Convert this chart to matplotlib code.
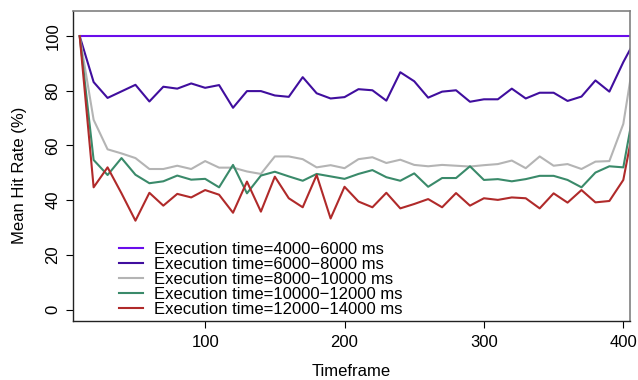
import numpy as np
import matplotlib
matplotlib.use('Agg')
import matplotlib.pyplot as plt

plt.rcParams['font.family'] = ['Liberation Sans', 'DejaVu Sans']

timeframe = list(range(10, 411, 10))

hit_4000 = [100.0] * 41
hit_6000 = [100, 83.2, 77.4, 79.8, 82.2, 76.1, 81.5, 80.8, 82.7, 81.1, 82.1, 73.8, 79.9,
            79.9, 78.3, 77.8, 85.0, 79.1, 77.2, 77.7, 80.6, 80.2, 76.4, 86.8, 83.5, 77.5, 79.7,
            80.2, 76.0, 76.9, 76.9, 80.8, 77.2, 79.3, 79.3, 76.3, 77.9, 83.8, 79.7, 90.5, 100]
hit_8000 = [100, 69.4, 58.6, 57.1, 55.4, 51.4, 51.4, 52.6, 51.4, 54.3, 51.9, 51.9, 50.5,
            49.6, 56.0, 56.0, 55.0, 52.0, 52.8, 51.7, 55.0, 55.7, 53.6, 54.8, 52.9, 52.4, 52.9,
            52.6, 52.3, 52.8, 53.2, 54.5, 51.7, 56.0, 52.6, 53.2, 51.4, 54.1, 54.3, 67.9, 100]
hit_10000 = [100, 54.7, 49.2, 55.4, 49.3, 46.2, 46.9, 49.0, 47.5, 47.8, 44.7, 52.9, 42.5,
             49.0, 50.4, 48.7, 47.1, 49.6, 48.7, 47.8, 49.6, 51.0, 48.4, 47.1, 49.8, 44.9, 48.1,
             48.1, 52.4, 47.4, 47.7, 46.9, 47.7, 48.9, 48.9, 47.4, 44.7, 50.1, 52.4, 52.0, 80]
hit_12000 = [100, 44.7, 52.0, 42.5, 32.5, 42.7, 38.0, 42.3, 41.0, 43.7, 42.0, 35.4, 46.8,
             35.8, 48.6, 40.7, 37.4, 49.2, 33.3, 44.9, 39.5, 37.4, 42.7, 37.0, 38.6, 40.4, 37.4,
             42.6, 38.0, 40.7, 40.1, 41.0, 40.7, 37.0, 42.5, 39.1, 43.7, 39.2, 39.7, 47.4, 74]

series = [hit_4000, hit_6000, hit_8000, hit_10000, hit_12000]
labels = ['Execution time=4000\u22126000 ms', 'Execution time=6000\u22128000 ms',
          'Execution time=8000\u221210000 ms', 'Execution time=10000\u221212000 ms',
          'Execution time=12000\u221214000 ms']
colors = ['#6A0DEB', '#400E9E', '#B4B4B4', '#3A8A6A', '#B02A2A']

fig = plt.figure(figsize=(6.38, 3.8), dpi=100)
ax = fig.add_axes([73 / 638, 1 - 321 / 380, 557 / 638, 310 / 380])

for vals, lab, col in zip(series, labels, colors):
    ax.plot(timeframe, vals, color=col, lw=1.5, label=lab)

ax.set_xlim(5.2, 404.8)
ax.set_ylim(-4.2, 109.2)
ax.set_xticks([100, 200, 300, 400])
ax.set_yticks([0, 20, 40, 60, 80, 100])
ax.tick_params(axis='both', length=5, width=0.8, labelsize=12, direction='out')
ax.tick_params(axis='x', pad=5)
ax.tick_params(axis='y', pad=4)
for t in ax.get_yticklabels():
    t.set_rotation(90)
    t.set_va('center')

for s in ['left', 'bottom']:
    ax.spines[s].set_color('#222222')
    ax.spines[s].set_linewidth(1.0)
for s in ['top', 'right']:
    ax.spines[s].set_color('#808080')
    ax.spines[s].set_linewidth(1.2)

fig.text(351.5 / 638, 1 - 371 / 380, 'Timeframe', ha='center', va='center', fontsize=12)
fig.text(20 / 638, 1 - 175 / 380, 'Mean Hit Rate (%)', ha='center', va='center',
         rotation=90, fontsize=12)

ax.legend(loc='upper left', bbox_to_anchor=(119 / 638, 1 - 242 / 380),
          bbox_transform=fig.transFigure, frameon=False, fontsize=12,
          borderpad=0, borderaxespad=0, labelspacing=0.0, handlelength=1.45,
          handletextpad=0.65)

fig.savefig('out.png', dpi=100)
